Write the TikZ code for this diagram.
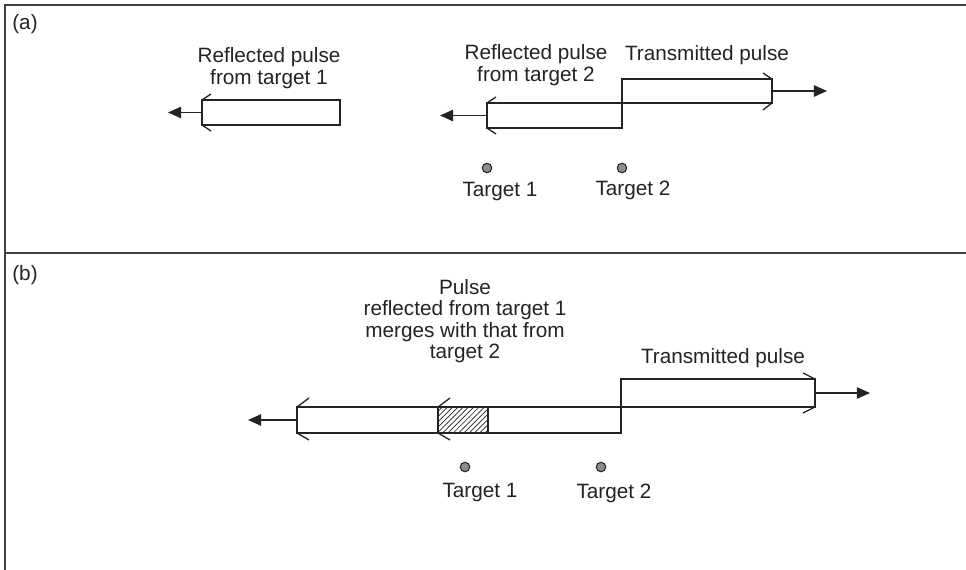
\documentclass[tikz,border=0pt]{standalone}
\usepackage{fontspec}
\setmainfont{Liberation Sans}
\usetikzlibrary{arrows.meta}
\usetikzlibrary{positioning}
\usetikzlibrary{patterns}
\definecolor{framegray}{RGB}{64,64,64}
\definecolor{inkgray}{RGB}{35,35,35}
\definecolor{dotgray}{RGB}{140,140,140}

\begin{document}
\begin{tikzpicture}[x=0.02cm,y=-0.02cm]
		  \tikzset{
			pulse/.style={draw=inkgray,line width=0.9pt,inner sep=0pt,outer sep=0pt,minimum height=0.5cm},
			pulsearrow/.style={draw=inkgray,line width=0.9pt,-{Triangle[length=7.5pt,width=6.5pt]}},
			tickline/.style={draw=inkgray,line width=0.75pt},
			lbl/.style={text=inkgray,font=\fontsize{11.8}{12.2}\selectfont,align=center,inner sep=0pt},
			targetdot/.style={circle,draw=inkgray,line width=0.6pt,fill=dotgray,minimum size=0.19cm,inner sep=0pt},
			frame/.style={draw=framegray,line width=1.1pt},
		  }
		  \useasboundingbox (0,0) rectangle (966,570);
		  %FRAME
		  \draw[frame] (966,5) -- (5,5) -- (5,570);
		  \draw[frame] (5,253) -- (966,253);
		  %PANEL LABELS
		  \node[lbl] (pa) at (25,24) {(a)};
		  \node[lbl] (pb) at (25,275) {(b)};

		  %PULSES (a)
		  \node[pulse,minimum width=2.76cm] (ra1) at (271,112.5) {};
		  \node[pulse,minimum width=2.70cm] (ra2) at (554.5,115.5) {};
		  \node[pulse,minimum width=3.0cm,minimum height=0.48cm] (ta) at (697,91) {};
		  %ARROWS (a)
		  \coordinate (ra1end) at (168,112.5);
		  \coordinate (ra2end) at (440,115.5);
		  \coordinate (taend) at (827,91);
		  \draw[pulsearrow] (ra1.west) -- (ra1end);
		  \draw[pulsearrow] (ra2.west) -- (ra2end);
		  \draw[pulsearrow] (ta.east) -- (taend);
		  %CHEVRONS (a)
		  \foreach \n in {ra1,ra2}{
			\draw[tickline] (\n.north west) -- ++(9,-6);
			\draw[tickline] (\n.south west) -- ++(9,6);
		  }
		  \draw[tickline] (ta.north east) -- ++(-9,-6);
		  \draw[tickline] (ta.south east) -- ++(-9,7);
		  %LABELS (a)
		  \node[lbl] (ra1txt) at (269,68) {Reflected pulse\\from target 1};
		  \node[lbl] (ra2txt) at (536,65) {Reflected pulse\\from target 2};
		  \node[lbl] (tatxt) at (707,55) {Transmitted pulse};
		  %TARGETS (a)
		  \node[targetdot] (da1) at (487,168) {};
		  \node[targetdot] (da2) at (622,168) {};
		  \node[lbl] (la1) at (500,192) {Target 1};
		  \node[lbl] (la2) at (633,190) {Target 2};

		  %PULSES (b)
		  \node[pulse,minimum width=6.48cm,minimum height=0.52cm] (rb) at (459,420) {};
		  \node[pulse,minimum width=1.0cm,minimum height=0.52cm,pattern=north east lines,pattern color=inkgray] (hb) at (463,420) {};
		  \node[pulse,minimum width=3.88cm,minimum height=0.56cm] (tb) at (718,393) {};
		  %ARROWS (b)
		  \coordinate (rbend) at (248,420);
		  \coordinate (tbend) at (870,393);
		  \draw[pulsearrow] (rb.west) -- (rbend);
		  \draw[pulsearrow] (tb.east) -- (tbend);
		  %CHEVRONS (b)
		  \foreach \n in {rb,hb}{
			\draw[tickline] (\n.north west) -- ++(12,-9);
			\draw[tickline] (\n.south west) -- ++(12,7);
		  }
		  \draw[tickline] (tb.north east) -- ++(-12,-6);
		  \draw[tickline] (tb.south east) -- ++(-12,6);
		  %LABELS (b)
		  \node[lbl] (mergetxt) at (465,321) {Pulse\\reflected from target 1\\merges with that from\\target 2};
		  \node[lbl] (tbtxt) at (723,358) {Transmitted pulse};
		  %TARGETS (b)
		  \node[targetdot] (db1) at (465,467) {};
		  \node[targetdot] (db2) at (601,467) {};
		  \node[lbl] (lb1) at (480,493) {Target 1};
		  \node[lbl] (lb2) at (614,493) {Target 2};
\end{tikzpicture}
\end{document}
